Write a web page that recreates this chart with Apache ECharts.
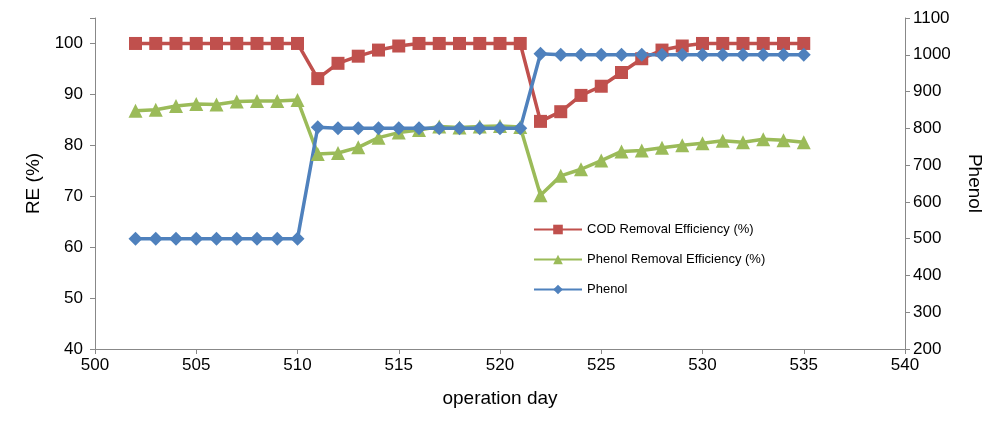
<!DOCTYPE html>
<html>
<head><meta charset="utf-8"></head>
<body style="margin:0;background:#fff">
<div id="container" style="width:993px;height:429px"></div>
<script src="https://cdn.jsdelivr.net/npm/echarts@6/dist/echarts.min.js"></script>
<script>
var days = [];
for (var d = 502; d <= 535; d++) days.push(d);
var codRE = [100,100,100,100,100,100,100,100,100,93.1,96.1,97.5,98.7,99.5,100,100,100,100,100,100,
  84.7,86.6,89.8,91.6,94.3,97,98.7,99.5,100,100,100,100,100,100];
var phenolRE = [86.8,87,87.7,88.1,88,88.6,88.7,88.7,88.9,78.3,78.5,79.6,81.5,82.5,83,83.7,83.5,83.7,83.8,83.6,
  70.2,74,75.3,77,78.8,79,79.5,80,80.4,80.9,80.6,81.2,81,80.6];
var phenol = [500,500,500,500,500,500,500,500,500,803,800,800,800,800,800,800,800,800,800,800,
  1003,1000,1000,1000,1000,1000,1000,1000,1000,1000,1000,1000,1000,1000];

function pairs(v) { return v.map(function (y, i) { return [days[i], y]; }); }

var myChart = echarts.init(document.getElementById('container'));
var axisStyle = { lineStyle: { color: '#888' } };
var txt = { color: '#000', fontSize: 17, fontFamily: 'Liberation Sans' };
var option = {
  textStyle: { fontFamily: 'Liberation Sans' },
  legend: {
    orient: 'vertical', left: 528, top: 218, itemGap: 17, itemWidth: 48, itemHeight: 12,
    textStyle: { fontSize: 13, color: '#000' },
    data: ['COD Removal Efficiency (%)', 'Phenol Removal Efficiency (%)', 'Phenol']
  },
  grid: { left: 95, right: 88, top: 18, bottom: 80 },
  xAxis: {
    type: 'value', min: 500, max: 540, interval: 5,
    name: 'operation day', nameLocation: 'middle', nameGap: 40, nameTextStyle: { fontSize: 19, color: '#000' },
    axisLine: axisStyle, axisTick: { lineStyle: { color: '#888' }, inside: false },
    axisLabel: txt, splitLine: { show: false }
  },
  yAxis: [{
    type: 'value', min: 40, max: 105, interval: 10,
    name: 'RE (%)', nameLocation: 'middle', nameGap: 50, nameTextStyle: { fontSize: 19, color: '#000' },
    axisLine: { show: true, lineStyle: { color: '#888' } }, axisTick: { show: true, lineStyle: { color: '#888' } },
    axisLabel: Object.assign({ margin: 12, formatter: function (v) { return v % 10 === 0 ? String(v) : ''; } }, txt),
    splitLine: { show: false }
  }, {
    type: 'value', min: 200, max: 1100, interval: 100,
    name: 'Phenol', nameLocation: 'middle', nameGap: 60, nameRotate: -90, nameTextStyle: { fontSize: 19, color: '#000' },
    axisLine: { show: true, lineStyle: { color: '#888' } }, axisTick: { show: true, lineStyle: { color: '#888' } },
    axisLabel: Object.assign({ formatter: function (v) { return String(v); } }, txt), splitLine: { show: false }
  }],
  series: [{
    name: 'COD Removal Efficiency (%)', type: 'line', data: pairs(codRE),
    symbol: 'rect', symbolSize: 13, color: '#C0504D', lineStyle: { width: 3.5 }
  }, {
    name: 'Phenol Removal Efficiency (%)', type: 'line', data: pairs(phenolRE),
    symbol: 'triangle', symbolSize: 14, color: '#9BBB59', lineStyle: { width: 3.5 }
  }, {
    name: 'Phenol', type: 'line', yAxisIndex: 1, data: pairs(phenol),
    symbol: 'diamond', symbolSize: 14, color: '#4F81BD', lineStyle: { width: 3.5 }
  }]
};
myChart.setOption(option);
window.addEventListener('resize', myChart.resize);
</script>
</body>
</html>
